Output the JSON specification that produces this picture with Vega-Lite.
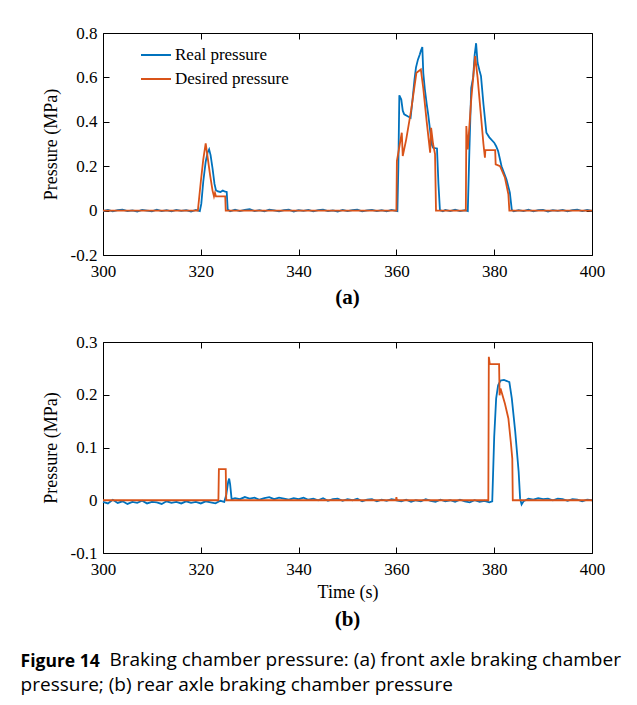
{
  "$schema": "https://vega.github.io/schema/vega-lite/v6.json",
  "background": "white",
  "padding": {"left": 20, "top": 23, "right": 5, "bottom": 5},
  "config": {
    "view": {"stroke": "black", "strokeWidth": 1},
    "axis": {"grid": false, "domain": false, "ticks": true, "tickColor": "black", "tickSize": -6, "tickWidth": 1, "labelFont": "Liberation Serif", "labelFontSize": 17, "labelColor": "black", "labelFlush": false, "labelOverlap": false, "titleFont": "Liberation Serif", "titleFontSize": 18, "titleFontWeight": "normal", "titleColor": "black"},
    "axisX": {"labelPadding": 14, "titlePadding": 6},
    "axisY": {"labelPadding": 12, "titlePadding": 10},
    "legend": {"title": null, "orient": "none", "symbolType": "stroke", "symbolStrokeWidth": 2, "labelFont": "Liberation Serif", "labelFontSize": 17, "labelColor": "black", "labelOffset": 3, "padding": 0},
    "title": {"font": "Liberation Serif", "fontSize": 21, "fontWeight": "bold", "color": "black", "orient": "bottom", "anchor": "middle", "offset": 8}
  },
  "title": {
    "text": "Figure 14",
    "subtitle": ["\u200b\u00a0\u00a0\u00a0\u00a0\u00a0\u00a0\u00a0\u00a0\u00a0\u00a0\u00a0\u00a0\u00a0\u00a0\u00a0\u00a0\u00a0\u00a0Braking chamber pressure: (a) front axle braking chamber", "pressure; (b) rear axle braking chamber pressure"],
    "orient": "bottom", "anchor": "start", "frame": "bounds", "dx": -21, "offset": 22,
    "font": "Open Sans", "fontSize": 17.5, "fontWeight": "bold", "color": "black",
    "subtitleFont": "Open Sans", "subtitleFontSize": 19, "subtitleFontWeight": "normal", "subtitleColor": "black", "subtitleLineHeight": 25, "subtitlePadding": -19
  },
  "spacing": 23,
  "datasets": {
    "a": [
      {"t":300,"p":-0.002,"s":"R"},{"t":301,"p":0.003,"s":"R"},{"t":302,"p":-0.003,"s":"R"},{"t":303,"p":0.002,"s":"R"},{"t":304,"p":0.004,"s":"R"},{"t":305,"p":-0.002,"s":"R"},{"t":306,"p":0.001,"s":"R"},{"t":307,"p":-0.004,"s":"R"},{"t":308,"p":0.003,"s":"R"},{"t":309,"p":0,"s":"R"},{"t":310,"p":-0.003,"s":"R"},{"t":311,"p":0.004,"s":"R"},{"t":312,"p":-0.002,"s":"R"},{"t":313,"p":0.002,"s":"R"},{"t":314,"p":-0.003,"s":"R"},{"t":315,"p":0.003,"s":"R"},{"t":316,"p":-0.001,"s":"R"},{"t":317,"p":0.002,"s":"R"},{"t":318,"p":-0.004,"s":"R"},{"t":319,"p":0.003,"s":"R"},
      {"t":319.8,"p":-0.002,"s":"R"},{"t":320.1,"p":0.03,"s":"R"},{"t":320.5,"p":0.13,"s":"R"},{"t":321,"p":0.22,"s":"R"},{"t":321.4,"p":0.262,"s":"R"},{"t":321.7,"p":0.276,"s":"R"},{"t":322,"p":0.25,"s":"R"},{"t":322.4,"p":0.19,"s":"R"},{"t":322.8,"p":0.12,"s":"R"},{"t":323.1,"p":0.092,"s":"R"},{"t":323.5,"p":0.086,"s":"R"},{"t":324,"p":0.084,"s":"R"},{"t":324.5,"p":0.09,"s":"R"},{"t":325,"p":0.085,"s":"R"},{"t":325.3,"p":0.084,"s":"R"},{"t":325.5,"p":0.005,"s":"R"},
      {"t":326,"p":-0.003,"s":"R"},{"t":327,"p":0.004,"s":"R"},{"t":328,"p":-0.002,"s":"R"},{"t":329,"p":0.003,"s":"R"},{"t":330,"p":0.006,"s":"R"},{"t":331,"p":-0.002,"s":"R"},{"t":332,"p":0.002,"s":"R"},{"t":333,"p":-0.003,"s":"R"},{"t":334,"p":0.004,"s":"R"},{"t":335,"p":0.001,"s":"R"},{"t":336,"p":-0.003,"s":"R"},{"t":337,"p":0.002,"s":"R"},{"t":338,"p":0.004,"s":"R"},{"t":339,"p":-0.004,"s":"R"},{"t":340,"p":0.002,"s":"R"},{"t":341,"p":-0.001,"s":"R"},{"t":342,"p":0.003,"s":"R"},{"t":343,"p":-0.003,"s":"R"},{"t":344,"p":0.002,"s":"R"},{"t":345,"p":0.004,"s":"R"},{"t":346,"p":-0.002,"s":"R"},{"t":347,"p":0.001,"s":"R"},{"t":348,"p":-0.004,"s":"R"},{"t":349,"p":0.003,"s":"R"},{"t":350,"p":-0.002,"s":"R"},{"t":351,"p":0.002,"s":"R"},{"t":352,"p":0.004,"s":"R"},{"t":353,"p":-0.003,"s":"R"},{"t":354,"p":0.001,"s":"R"},{"t":355,"p":0.003,"s":"R"},{"t":356,"p":-0.002,"s":"R"},{"t":357,"p":0.002,"s":"R"},{"t":358,"p":-0.003,"s":"R"},{"t":359,"p":0.003,"s":"R"},
      {"t":360.2,"p":-0.002,"s":"R"},{"t":360.4,"p":0.2,"s":"R"},{"t":360.6,"p":0.519,"s":"R"},{"t":361,"p":0.5,"s":"R"},{"t":361.3,"p":0.45,"s":"R"},{"t":361.6,"p":0.434,"s":"R"},{"t":362.3,"p":0.425,"s":"R"},{"t":362.9,"p":0.418,"s":"R"},{"t":363.3,"p":0.5,"s":"R"},{"t":363.7,"p":0.59,"s":"R"},{"t":364,"p":0.644,"s":"R"},{"t":364.4,"p":0.68,"s":"R"},{"t":364.8,"p":0.704,"s":"R"},{"t":365,"p":0.72,"s":"R"},{"t":365.3,"p":0.737,"s":"R"},{"t":365.5,"p":0.62,"s":"R"},{"t":365.8,"p":0.55,"s":"R"},{"t":366.2,"p":0.48,"s":"R"},{"t":366.5,"p":0.434,"s":"R"},{"t":366.9,"p":0.36,"s":"R"},{"t":367.2,"p":0.3,"s":"R"},{"t":367.5,"p":0.283,"s":"R"},{"t":368.3,"p":0.28,"s":"R"},{"t":368.6,"p":0.12,"s":"R"},{"t":368.9,"p":0.002,"s":"R"},
      {"t":369.5,"p":-0.003,"s":"R"},{"t":370,"p":0.003,"s":"R"},{"t":371,"p":-0.002,"s":"R"},{"t":372,"p":0.004,"s":"R"},{"t":373,"p":-0.002,"s":"R"},{"t":374,"p":0.002,"s":"R"},{"t":374.6,"p":-0.002,"s":"R"},{"t":374.9,"p":0.25,"s":"R"},{"t":375.3,"p":0.553,"s":"R"},{"t":375.7,"p":0.6,"s":"R"},{"t":376,"p":0.7,"s":"R"},{"t":376.3,"p":0.754,"s":"R"},{"t":376.6,"p":0.666,"s":"R"},{"t":377,"p":0.63,"s":"R"},{"t":377.3,"p":0.606,"s":"R"},{"t":377.8,"p":0.48,"s":"R"},{"t":378.4,"p":0.351,"s":"R"},{"t":379,"p":0.33,"s":"R"},{"t":380,"p":0.306,"s":"R"},{"t":380.4,"p":0.29,"s":"R"},{"t":380.8,"p":0.268,"s":"R"},{"t":381.5,"p":0.2,"s":"R"},{"t":382,"p":0.17,"s":"R"},{"t":382.5,"p":0.141,"s":"R"},{"t":383.2,"p":0.081,"s":"R"},{"t":383.6,"p":0.003,"s":"R"},
      {"t":384,"p":-0.003,"s":"R"},{"t":385,"p":0.002,"s":"R"},{"t":386,"p":-0.002,"s":"R"},{"t":387,"p":0.004,"s":"R"},{"t":388,"p":-0.003,"s":"R"},{"t":389,"p":0.002,"s":"R"},{"t":390,"p":0.003,"s":"R"},{"t":391,"p":-0.004,"s":"R"},{"t":392,"p":0.002,"s":"R"},{"t":393,"p":-0.001,"s":"R"},{"t":394,"p":0.003,"s":"R"},{"t":395,"p":-0.003,"s":"R"},{"t":396,"p":0.002,"s":"R"},{"t":397,"p":0.004,"s":"R"},{"t":398,"p":-0.002,"s":"R"},{"t":399,"p":0.003,"s":"R"},{"t":400,"p":-0.001,"s":"R"},
      {"t":300,"p":0,"s":"D"},{"t":319.4,"p":0,"s":"D"},{"t":320,"p":0.13,"s":"D"},{"t":320.5,"p":0.23,"s":"D"},{"t":321,"p":0.303,"s":"D"},{"t":321.4,"p":0.24,"s":"D"},{"t":321.9,"p":0.16,"s":"D"},{"t":322.4,"p":0.09,"s":"D"},{"t":322.7,"p":0.064,"s":"D"},{"t":322.9,"p":0.08,"s":"D"},{"t":323.1,"p":0.064,"s":"D"},{"t":325,"p":0.064,"s":"D"},{"t":325.1,"p":0,"s":"D"},
      {"t":360,"p":0,"s":"D"},{"t":360.1,"p":0.223,"s":"D"},{"t":360.7,"p":0.3,"s":"D"},{"t":361.1,"p":0.351,"s":"D"},{"t":361.3,"p":0.246,"s":"D"},{"t":362,"p":0.32,"s":"D"},{"t":363,"p":0.45,"s":"D"},{"t":364.1,"p":0.621,"s":"D"},{"t":365,"p":0.636,"s":"D"},{"t":365.5,"p":0.55,"s":"D"},{"t":366.2,"p":0.4,"s":"D"},{"t":366.9,"p":0.261,"s":"D"},{"t":367.1,"p":0.373,"s":"D"},{"t":367.5,"p":0.3,"s":"D"},{"t":367.9,"p":0.255,"s":"D"},{"t":368.1,"p":0,"s":"D"},
      {"t":374.2,"p":0,"s":"D"},{"t":374.3,"p":0.381,"s":"D"},{"t":374.6,"p":0.276,"s":"D"},{"t":375.3,"p":0.5,"s":"D"},{"t":376.1,"p":0.696,"s":"D"},{"t":376.6,"p":0.6,"s":"D"},{"t":377.2,"p":0.45,"s":"D"},{"t":377.8,"p":0.3,"s":"D"},{"t":378.1,"p":0.238,"s":"D"},{"t":378.2,"p":0.272,"s":"D"},{"t":380.2,"p":0.272,"s":"D"},{"t":380.3,"p":0.208,"s":"D"},{"t":381.2,"p":0.2,"s":"D"},{"t":382.2,"p":0.148,"s":"D"},{"t":382.9,"p":0.073,"s":"D"},{"t":383.1,"p":0,"s":"D"},{"t":400,"p":0,"s":"D"}
    ],
    "b": [
      {"t":300,"p":-0.003,"s":"R"},{"t":301,"p":-0.006,"s":"R"},{"t":302,"p":0.001,"s":"R"},{"t":303,"p":-0.005,"s":"R"},{"t":304,"p":-0.002,"s":"R"},{"t":305,"p":-0.007,"s":"R"},{"t":306,"p":-0.003,"s":"R"},{"t":307,"p":-0.005,"s":"R"},{"t":308,"p":-0.001,"s":"R"},{"t":309,"p":-0.006,"s":"R"},{"t":310,"p":-0.003,"s":"R"},{"t":311,"p":-0.004,"s":"R"},{"t":312,"p":-0.007,"s":"R"},{"t":313,"p":-0.002,"s":"R"},{"t":314,"p":-0.005,"s":"R"},{"t":315,"p":-0.003,"s":"R"},{"t":316,"p":-0.006,"s":"R"},{"t":317,"p":-0.002,"s":"R"},{"t":318,"p":-0.005,"s":"R"},{"t":319,"p":-0.003,"s":"R"},{"t":320,"p":-0.006,"s":"R"},{"t":321,"p":-0.002,"s":"R"},{"t":322,"p":-0.004,"s":"R"},{"t":323,"p":-0.006,"s":"R"},{"t":324,"p":-0.001,"s":"R"},{"t":324.8,"p":-0.003,"s":"R"},
      {"t":325.2,"p":0.01,"s":"R"},{"t":325.6,"p":0.035,"s":"R"},{"t":325.8,"p":0.041,"s":"R"},{"t":326,"p":0.03,"s":"R"},{"t":326.3,"p":0.002,"s":"R"},
      {"t":327,"p":0.004,"s":"R"},{"t":328,"p":0.002,"s":"R"},{"t":329,"p":0.006,"s":"R"},{"t":330,"p":0.003,"s":"R"},{"t":331,"p":0.005,"s":"R"},{"t":332,"p":0.001,"s":"R"},{"t":333,"p":0.004,"s":"R"},{"t":334,"p":0.006,"s":"R"},{"t":335,"p":0.002,"s":"R"},{"t":336,"p":0.005,"s":"R"},{"t":337,"p":0.003,"s":"R"},{"t":338,"p":0.001,"s":"R"},{"t":339,"p":0.004,"s":"R"},{"t":340,"p":0.002,"s":"R"},{"t":341,"p":0.005,"s":"R"},{"t":342,"p":0.001,"s":"R"},{"t":343,"p":0.003,"s":"R"},{"t":344,"p":0,"s":"R"},{"t":345,"p":0.004,"s":"R"},{"t":346,"p":-0.001,"s":"R"},{"t":347,"p":0.002,"s":"R"},{"t":348,"p":0.003,"s":"R"},{"t":349,"p":-0.001,"s":"R"},{"t":350,"p":0.002,"s":"R"},{"t":351,"p":0,"s":"R"},{"t":352,"p":0.003,"s":"R"},{"t":353,"p":-0.002,"s":"R"},{"t":354,"p":0.001,"s":"R"},{"t":355,"p":0.002,"s":"R"},{"t":356,"p":-0.002,"s":"R"},{"t":357,"p":0.001,"s":"R"},{"t":358,"p":-0.001,"s":"R"},{"t":359,"p":0.002,"s":"R"},{"t":360,"p":0,"s":"R"},{"t":361,"p":-0.002,"s":"R"},{"t":362,"p":0.001,"s":"R"},{"t":363,"p":-0.003,"s":"R"},{"t":364,"p":0,"s":"R"},{"t":365,"p":-0.002,"s":"R"},{"t":366,"p":0.002,"s":"R"},{"t":367,"p":-0.001,"s":"R"},{"t":368,"p":-0.003,"s":"R"},{"t":369,"p":0.001,"s":"R"},{"t":370,"p":-0.002,"s":"R"},{"t":371,"p":0,"s":"R"},{"t":372,"p":-0.003,"s":"R"},{"t":373,"p":0.001,"s":"R"},{"t":374,"p":-0.002,"s":"R"},{"t":375,"p":-0.004,"s":"R"},{"t":376,"p":0,"s":"R"},{"t":377,"p":-0.003,"s":"R"},{"t":378,"p":-0.001,"s":"R"},{"t":379,"p":-0.004,"s":"R"},{"t":379.6,"p":-0.002,"s":"R"},
      {"t":380,"p":0.12,"s":"R"},{"t":380.4,"p":0.193,"s":"R"},{"t":380.8,"p":0.218,"s":"R"},{"t":381.3,"p":0.227,"s":"R"},{"t":382,"p":0.228,"s":"R"},{"t":382.6,"p":0.226,"s":"R"},{"t":383.1,"p":0.224,"s":"R"},{"t":383.6,"p":0.193,"s":"R"},{"t":384.3,"p":0.13,"s":"R"},{"t":385,"p":0.054,"s":"R"},{"t":385.3,"p":0.003,"s":"R"},{"t":385.6,"p":-0.008,"s":"R"},
      {"t":386,"p":-0.002,"s":"R"},{"t":387,"p":0.003,"s":"R"},{"t":388,"p":0.001,"s":"R"},{"t":389,"p":0.004,"s":"R"},{"t":390,"p":0.002,"s":"R"},{"t":391,"p":0.003,"s":"R"},{"t":392,"p":0,"s":"R"},{"t":393,"p":0.003,"s":"R"},{"t":394,"p":0.002,"s":"R"},{"t":395,"p":-0.001,"s":"R"},{"t":396,"p":0.002,"s":"R"},{"t":397,"p":0.001,"s":"R"},{"t":398,"p":-0.002,"s":"R"},{"t":399,"p":0.001,"s":"R"},{"t":400,"p":0,"s":"R"},
      {"t":300,"p":0,"s":"D"},{"t":323.6,"p":0,"s":"D"},{"t":323.7,"p":0.059,"s":"D"},{"t":325.1,"p":0.059,"s":"D"},{"t":325.2,"p":0,"s":"D"},{"t":359.9,"p":0,"s":"D"},{"t":360,"p":0.006,"s":"D"},{"t":360.1,"p":0,"s":"D"},{"t":378.8,"p":0,"s":"D"},{"t":378.9,"p":0.272,"s":"D"},{"t":379.1,"p":0.258,"s":"D"},{"t":381,"p":0.258,"s":"D"},{"t":381.1,"p":0.199,"s":"D"},{"t":381.3,"p":0.212,"s":"D"},{"t":382.2,"p":0.183,"s":"D"},{"t":382.9,"p":0.155,"s":"D"},{"t":383.4,"p":0.11,"s":"D"},{"t":383.7,"p":0.079,"s":"D"},{"t":383.8,"p":0,"s":"D"},{"t":400,"p":0,"s":"D"}
    ]
  },
  "vconcat": [
    {
      "width": 489, "height": 222,
      "data": {"name": "a"},
      "title": {"text": "(a)"},
      "layer": [
        {
          "mark": {"type": "line", "strokeWidth": 1.8},
          "encoding": {
            "x": {"field": "t", "type": "quantitative", "scale": {"domain": [300, 400], "nice": false, "zero": false}, "axis": {"values": [300, 320, 340, 360, 380, 400], "title": null}},
            "y": {"field": "p", "type": "quantitative", "scale": {"domain": [-0.2, 0.8], "nice": false}, "axis": {"values": [-0.2, 0, 0.2, 0.4, 0.6, 0.8], "title": "Pressure (MPa)", "labelExpr": "'' + datum.value"}},
            "color": {"field": "s", "type": "nominal", "scale": {"domain": ["R", "D"], "range": ["#0072BD", "#D95319"]}, "legend": {"legendX": 37, "legendY": 6, "symbolSize": 900, "rowPadding": -7, "labelExpr": "datum.label == 'R' ? 'Real pressure' : 'Desired pressure'"}}
          }
        },
        {
          "mark": {"type": "line", "opacity": 0},
          "encoding": {
            "x": {"field": "t", "type": "quantitative", "axis": {"orient": "top", "values": [300, 320, 340, 360, 380, 400], "labels": false, "title": null}},
            "y": {"field": "p", "type": "quantitative", "axis": {"orient": "right", "values": [-0.2, 0, 0.2, 0.4, 0.6, 0.8], "labels": false, "title": null}}
          }
        }
      ],
      "resolve": {"axis": {"x": "independent", "y": "independent"}}
    },
    {
      "width": 489, "height": 211,
      "data": {"name": "b"},
      "title": {"text": "(b)"},
      "layer": [
        {
          "mark": {"type": "line", "strokeWidth": 1.8},
          "encoding": {
            "x": {"field": "t", "type": "quantitative", "scale": {"domain": [300, 400], "nice": false, "zero": false}, "axis": {"values": [300, 320, 340, 360, 380, 400], "title": "Time (s)"}},
            "y": {"field": "p", "type": "quantitative", "scale": {"domain": [-0.1, 0.3], "nice": false}, "axis": {"values": [-0.1, 0, 0.1, 0.2, 0.3], "title": "Pressure (MPa)", "labelExpr": "'' + datum.value"}},
            "color": {"field": "s", "type": "nominal", "scale": {"domain": ["R", "D"], "range": ["#0072BD", "#D95319"]}, "legend": {"legendX": 27, "legendY": 11, "symbolSize": 784, "rowPadding": -5, "labelExpr": "datum.label == 'R' ? 'Real pressure' : 'Desired pressure'"}}
          }
        },
        {
          "mark": {"type": "line", "opacity": 0},
          "encoding": {
            "x": {"field": "t", "type": "quantitative", "axis": {"orient": "top", "values": [300, 320, 340, 360, 380, 400], "labels": false, "title": null}},
            "y": {"field": "p", "type": "quantitative", "axis": {"orient": "right", "values": [-0.1, 0, 0.1, 0.2, 0.3], "labels": false, "title": null}}
          }
        }
      ],
      "resolve": {"axis": {"x": "independent", "y": "independent"}}
    }
  ]
}
